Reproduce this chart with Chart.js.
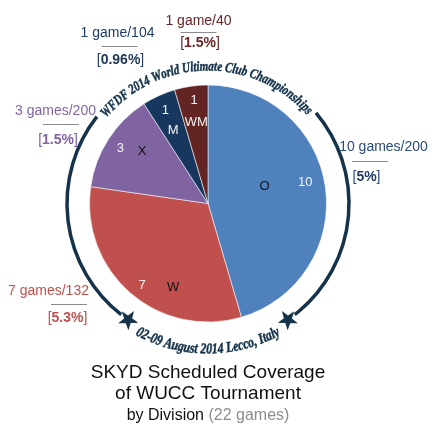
<!DOCTYPE html>
<html>
<head>
<meta charset="utf-8">
<title>SKYD Scheduled Coverage of WUCC Tournament</title>
<script src="https://cdn.jsdelivr.net/npm/chart.js@4.4.1/dist/chart.umd.min.js"></script>
<style>
	html, body { margin:0; padding:0; background:#fff; }
	#wrap { position:relative; width:434px; height:431px; }
</style>
</head>
<body>
<div id="wrap"><canvas id="wuccChart" width="434" height="431"></canvas></div>
<script>
// games with scheduled coverage, per division
const divisions = ['O', 'W', 'X', 'M', 'WM']
const gamesCovered = [10, 7, 3, 1, 1]
// games played per division and the share printed on the chart
const divisionGames = [200, 132, 200, 104, 40]
const coverageShare = ['5%', '5.3%', '1.5%', '0.96%', '1.5%']

const ringTop = 'WFDF 2014 World Ultimate Club Championships'
const ringBottom = '02-09 August 2014 Lecco, Italy'
const titleLines = ['SKYD Scheduled Coverage', 'of WUCC Tournament', 'by Division']

const FONT = '"Liberation Sans", Arial, sans-serif'
const RING_COLOR = '#15334a'
const deg = Math.PI / 180

// text laid along an arc, char by char, squeezed to fit between a0 and a1
function arcText(ctx, text, cx, cy, r, a0, a1){
	const dir = a1 > a0 ? 1 : -1
	const full = ctx.measureText(text).width
	const sx = Math.abs(a1 - a0) * r / full
	let a = a0
	for (const ch of text){
		const cw = ctx.measureText(ch).width * sx
		const mid = a + dir * (cw / 2) / r
		ctx.save()
		ctx.translate(cx + r * Math.cos(mid), cy + r * Math.sin(mid))
		ctx.rotate(dir > 0 ? mid + Math.PI / 2 : mid - Math.PI / 2)
		ctx.scale(sx, 1)
		ctx.fillText(ch, 0, 0)
		ctx.strokeText(ch, 0, 0)
		ctx.restore()
		a += dir * cw / r
	}
}

function star(ctx, x, y, rot, ro, ri){
	ctx.save()
	ctx.translate(x, y)
	ctx.rotate(rot)
	ctx.beginPath()
	for (let i = 0; i < 10; i++){
		const r = i % 2 ? ri : ro
		const a = -Math.PI / 2 + i * Math.PI / 5
		ctx.lineTo(r * Math.cos(a), r * Math.sin(a))
	}
	ctx.closePath()
	ctx.fill()
	ctx.restore()
}

const wuccDecor = {
	id: 'wuccDecor',
	afterDatasetsDraw(chart, args, opts){
		const ctx = chart.ctx
		const arcs = chart.getDatasetMeta(0).data
		const cx = arcs[0].x, cy = arcs[0].y
		ctx.save()

		// values and division names inside the slices
		ctx.textAlign = 'center'
		ctx.textBaseline = 'middle'
		ctx.font = '13px ' + FONT
		arcs.forEach((arc, i) => {
			const mid = (arc.startAngle + arc.endAngle) / 2
			const R = arc.outerRadius
			let a = mid + opts.valueShift[i] * deg
			let r = R * opts.valueRadius[i]
			ctx.fillStyle = '#f4f4f4'
			ctx.fillText(String(gamesCovered[i]), cx + r * Math.cos(a), cy + r * Math.sin(a))
			a = mid + opts.nameShift[i] * deg
			r = R * opts.nameRadius[i]
			ctx.fillStyle = opts.nameColor[i]
			ctx.fillText(divisions[i], cx + r * Math.cos(a), cy + r * Math.sin(a))
		})

		// outside callouts: games/total, rule, [share]
		ctx.textBaseline = 'alphabetic'
		arcs.forEach((arc, i) => {
			const [ox, oy] = opts.callout[i]
			const x = cx + ox, y = cy + oy
			const col = opts.calloutColor[i]
			ctx.font = '14px ' + FONT
			ctx.fillStyle = col
			ctx.textAlign = 'center'
			const g = gamesCovered[i] == 1 ? ' game/' : ' games/'
			ctx.fillText(gamesCovered[i] + g + divisionGames[i], x + opts.topShift[i], y + opts.topDy[i])

			ctx.strokeStyle = '#8a8a8a'
			ctx.lineWidth = 1
			ctx.beginPath()
			ctx.moveTo(x - 18, Math.round(y) + 0.5)
			ctx.lineTo(x + 18, Math.round(y) + 0.5)
			ctx.stroke()

			// "[", bold share, "]"
			ctx.textAlign = 'left'
			ctx.font = '14px ' + FONT
			const wb = ctx.measureText('[').width
			const wc = ctx.measureText(']').width
			ctx.font = 'bold 14px ' + FONT
			const wn = ctx.measureText(coverageShare[i]).width
			let bx = x + opts.bracketShift[i] - (wb + wn + wc) / 2
			const by = y + opts.bracketDy[i]
			ctx.font = '14px ' + FONT
			ctx.fillText('[', bx, by)
			ctx.font = 'bold 14px ' + FONT
			ctx.fillStyle = opts.shareColor[i]
			ctx.fillText(coverageShare[i], bx + wb, by)
			ctx.font = '14px ' + FONT
			ctx.fillStyle = col
			ctx.fillText(']', bx + wb + wn, by)
		})

		// tournament ring with its two arcs of lettering and stars
		const RR = 141
		ctx.strokeStyle = RING_COLOR
		ctx.fillStyle = RING_COLOR
		ctx.lineWidth = 3.5
		ctx.beginPath()
		ctx.arc(cx, cy, RR, -40 * deg, 52 * deg)
		ctx.stroke()
		ctx.beginPath()
		ctx.arc(cx, cy, RR, 128 * deg, 218 * deg)
		ctx.stroke()
		;[55.5, 124.5].forEach(a => {
			star(ctx, cx + RR * Math.cos(a * deg), cy + RR * Math.sin(a * deg), (a - 90) * deg, 10.5, 4.2)
		})
		ctx.textAlign = 'center'
		ctx.lineWidth = 0.5
		ctx.font = 'italic bold 14px "Liberation Serif", serif'
		arcText(ctx, ringTop, cx, cy, 133, -140 * deg, -42 * deg)
		ctx.font = 'italic bold 15px "Liberation Serif", serif'
		arcText(ctx, ringBottom, cx, cy, 150, 119 * deg, 61 * deg)

		// title under the chart
		ctx.fillStyle = '#111'
		ctx.font = '19px ' + FONT
		ctx.fillText(titleLines[0], 208, 378)
		ctx.fillText(titleLines[1], 208, 399)
		ctx.font = '16px ' + FONT
		const total = gamesCovered.reduce((s, v) => s + v, 0)
		const tail = ' (' + total + ' games)'
		const w1 = ctx.measureText(titleLines[2]).width
		const w2 = ctx.measureText(tail).width
		ctx.textAlign = 'left'
		const tx = 208 - (w1 + w2) / 2
		ctx.fillText(titleLines[2], tx, 420)
		ctx.fillStyle = '#8c8c8c'
		ctx.fillText(tail, tx + w1, 420)
		ctx.restore()
	}
}

new Chart(document.getElementById('wuccChart'), {
	type: 'pie',
	data: {
		labels: divisions,
		datasets: [{
			data: gamesCovered,
			backgroundColor: ['#4f81bd', '#c0504d', '#8064a2', '#17375e', '#632523'],
			borderColor: 'rgba(255,255,255,0.55)',
			borderWidth: 1
		}]
	},
	options: {
		responsive: false,
		animation: false,
		devicePixelRatio: 1,
		layout: { padding: { left: 89, right: 107, top: 84.5, bottom: 108.5 } },
		plugins: {
			legend: { display: false },
			tooltip: { enabled: false },
			wuccDecor: {
				valueRadius: [0.84, 0.89, 0.875, 0.865, 0.88],
				valueShift: [-4.3, -2.2, -0.5, 0, 0.5],
				nameRadius: [0.5, 0.77, 0.71, 0.68, 0.69],
				nameShift: [-8.9, -18.4, 5.8, -1, 0],
				nameColor: ['#111', '#111', '#111', '#f4f4f4', '#f4f4f4'],
				callout: [[162, -42.5], [-139, 100.5], [-147, -79.5], [-88.5, -157.5], [-9.5, -171.5]],
				topShift: [13.5, -20.5, -5.5, -2, 0],
				topDy: [-10.5, -9, -9, -9, -7],
				bracketShift: [-3.5, -1.5, -3, 1, 1.5],
				bracketDy: [19.5, 18, 20, 18.3, 15],
				calloutColor: ['#2c4a7c', '#c0504d', '#8064a2', '#1f3d66', '#6b2424'],
				shareColor: ['#243a66', '#c0504d', '#8064a2', '#1f3555', '#6b2424']
			}
		}
	},
	plugins: [wuccDecor]
})
</script>
</body>
</html>
